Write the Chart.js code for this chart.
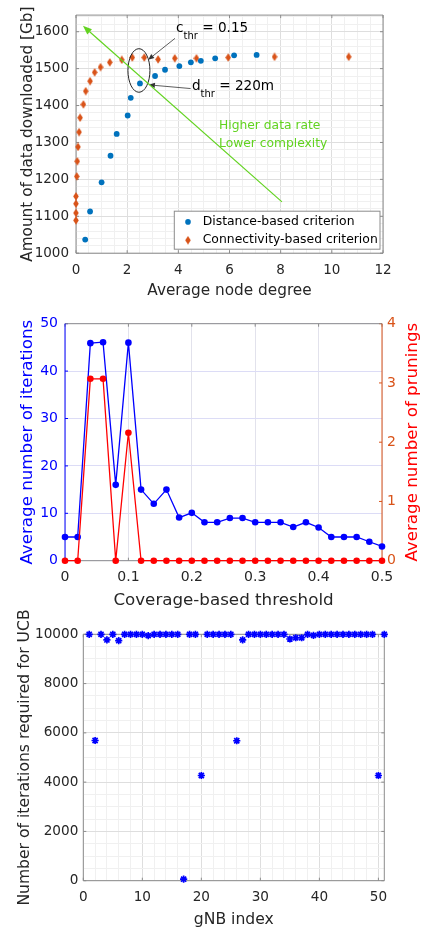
<!DOCTYPE html>
<html><head><meta charset="utf-8">
<script src="https://cdn.jsdelivr.net/npm/chart.js@4.4.1/dist/chart.umd.min.js"></script>
<style>
html,body{margin:0;padding:0;background:#fff;overflow:hidden;width:424px;height:927px;}
.c{position:absolute;left:0;width:424px;}
canvas{display:block;}
</style></head><body>
<div class="c" style="top:0;height:305px"><canvas id="c1" width="424" height="305"></canvas></div>
<div class="c" style="top:305px;height:310px"><canvas id="c2" width="424" height="310"></canvas></div>
<div class="c" style="top:600px;height:335px"><canvas id="c3" width="424" height="335"></canvas></div>
<script>
// ---------- DATA ----------
// Chart 1: data downloaded vs average node degree
const distDegree = [0.36, 0.55, 1.0, 1.35, 1.59, 2.02, 2.14, 2.5, 3.09, 3.48, 4.04, 4.49, 4.88, 5.44, 6.18, 7.06];
const distData   = [1037, 1113, 1192, 1264, 1323, 1373, 1421, 1460, 1480, 1497, 1507, 1517, 1521, 1528, 1536, 1537];
const connDegree = [0.0, 0.0, 0.0, 0.0, 0.03, 0.05, 0.08, 0.12, 0.16, 0.29, 0.38, 0.55, 0.73, 0.96, 1.32, 1.79, 2.2, 2.67, 3.21, 3.86, 4.71, 5.95, 7.76, 10.66];
const connData   = [1089, 1109, 1134, 1154, 1208, 1249, 1288, 1328, 1367, 1403, 1439, 1466, 1490, 1504, 1517, 1524, 1530, 1530, 1525, 1528, 1528, 1530, 1532, 1532];
const seriesNames1 = ['Distance-based criterion', 'Connectivity-based criterion'];
const degreeTicks = [0, 2, 4, 6, 8, 10, 12];
const downloadTicks = [1000, 1100, 1200, 1300, 1400, 1500, 1600];

// Chart 2: iterations / prunings vs coverage threshold
const thresholds = [0, 0.02, 0.04, 0.06, 0.08, 0.1, 0.12, 0.14, 0.16, 0.18, 0.2, 0.22, 0.24, 0.26, 0.28, 0.3, 0.32, 0.34, 0.36, 0.38, 0.4, 0.42, 0.44, 0.46, 0.48, 0.5];
const avgIterations = [5, 5, 45.9, 46.1, 16, 46, 15, 12, 15, 9.1, 10.1, 8.1, 8.1, 9, 9, 8.1, 8.1, 8.1, 7.1, 8.1, 7, 5, 5, 5, 4, 3];
const avgPrunings   = [0, 0, 3.07, 3.07, 0, 2.16, 0, 0, 0, 0, 0, 0, 0, 0, 0, 0, 0, 0, 0, 0, 0, 0, 0, 0, 0, 0];
const thresholdTicks = [0, 0.1, 0.2, 0.3, 0.4, 0.5];
const iterationTicks = [0, 10, 20, 30, 40, 50];
const pruningTicks = [0, 1, 2, 3, 4];

// Chart 3: UCB iterations per gNB
const gnbIndex = [1,2,3,4,5,6,7,8,9,10,11,12,13,14,15,16,17,18,19,20,21,22,23,24,25,26,27,28,29,30,31,32,33,34,35,36,37,38,39,40,41,42,43,44,45,46,47,48,49,50,51];
const ucbIterations = [10000,5690,10000,9770,10000,9740,10000,10000,10000,10000,9950,10000,10000,10000,10000,10000,60,10000,10000,4270,10000,10000,10000,10000,10000,5680,9770,10000,10000,10000,10000,10000,10000,10000,9810,9860,9860,10000,9960,10000,10000,10000,10000,10000,10000,10000,10000,10000,10000,4270,10000];
const gnbTicks = [0, 10, 20, 30, 40, 50];
const ucbTicks = [0, 2000, 4000, 6000, 8000, 10000];

// ---------- STYLE ----------
const FONT = "'DejaVu Sans', sans-serif";
const AX = '#262626';
const FRAME = '#8c8c8c';
const BLUE1 = '#0072BD', ORANGE1 = '#D95319';
const GREEN = '#62d320';

function range(a, b, s) { const out = []; const n = Math.round((b - a) / s); for (let i = 0; i <= n; i++) out.push(+(a + i * s).toFixed(6)); return out; }
function isIn(arr, v) { return arr.some(t => Math.abs(t - v) < 1e-9); }

function linAxis(o) {
  const all = o.minor ? Array.from(new Set([...o.minor, ...o.major])).sort((a, b) => a - b) : o.major;
  return {
    type: 'linear', position: o.position, min: o.min, max: o.max,
    afterBuildTicks: s => { s.ticks = all.map(v => ({ value: v })); },
    afterFit: s => { if (o.width != null) s.width = o.width; if (o.height != null) s.height = o.height; },
    grid: {
      display: o.grid !== false, drawOnChartArea: o.grid !== false, drawTicks: false, lineWidth: 1,
      color: c => (c.tick && isIn(o.major, c.tick.value)) ? o.gridMajor : o.gridMinor
    },
    border: { display: false },
    ticks: {
      autoSkip: false, maxRotation: 0, minRotation: 0, padding: o.pad, color: o.tickColor || AX,
      font: { family: FONT, size: o.tickSize },
      callback: v => isIn(o.major, v) ? String(v) : ''
    },
    title: o.title ? { display: true, text: o.title, color: o.titleColor || AX, font: { family: FONT, size: o.titleSize }, padding: o.titlePad } : { display: false }
  };
}

// frame + inward ticks
const framePlugin = {
  id: 'frame',
  beforeDatasetsDraw(chart, args, opts) {
    const { ctx, chartArea: a } = chart;
    ctx.save(); ctx.lineWidth = 1;
    const line = (x1, y1, x2, y2, c) => { ctx.strokeStyle = c; ctx.beginPath(); ctx.moveTo(x1, y1); ctx.lineTo(x2, y2); ctx.stroke(); };
    (opts.ticks || []).forEach(t => {
      const s = chart.scales[t.scale];
      t.values.forEach(v => {
        const p = s.getPixelForValue(v);
        t.sides.forEach(side => {
          if (side === 'bottom') line(p, a.bottom, p, a.bottom - t.len, t.color);
          if (side === 'top') line(p, a.top, p, a.top + t.len, t.color);
          if (side === 'left') line(a.left, p, a.left + t.len, p, t.color);
          if (side === 'right') line(a.right, p, a.right - t.len, p, t.color);
        });
      });
    });
    line(a.left, a.top, a.right, a.top, opts.top);
    line(a.left, a.bottom, a.right, a.bottom, opts.bottom);
    line(a.left, a.top, a.left, a.bottom, opts.left);
    line(a.right, a.top, a.right, a.bottom, opts.right);
    ctx.restore();
  }
};

// diamond marker image
const diamond = document.createElement('canvas');
diamond.width = 6; diamond.height = 9;
(() => { const d = diamond.getContext('2d'); d.fillStyle = ORANGE1; d.beginPath(); d.moveTo(3, 0.2); d.lineTo(5.8, 4.5); d.lineTo(3, 8.8); d.lineTo(0.2, 4.5); d.closePath(); d.fill(); })();

// ---------- CHART 1 ----------
const annot1 = {
  ellipse: { x: 2.46, y: 1495, rx: 0.43, ry: 59 },
  cArrow: { from: [3.87, 1582], to: [2.82, 1524] },
  dArrow: { from: [4.48, 1446], to: [2.85, 1456] },
  green: { from: [8.05, 1139], to: [0.27, 1616] },
  cLabel: { x: 3.91, y: 1599, main: 'c', sub: 'thr', rest: ' = 0.15' },
  dLabel: { x: 4.53, y: 1442, main: 'd', sub: 'thr', rest: ' = 220m' },
  greenText: { x: 5.59, lines: [['Higher data rate', 1345], ['Lower complexity', 1297]] }
};

function arrow(ctx, x1, y1, x2, y2, color, len, half, lw) {
  const ang = Math.atan2(y2 - y1, x2 - x1);
  ctx.strokeStyle = color; ctx.fillStyle = color; ctx.lineWidth = lw;
  const bx = x2 - len * Math.cos(ang), by = y2 - len * Math.sin(ang);
  ctx.beginPath(); ctx.moveTo(x1, y1); ctx.lineTo(bx, by); ctx.stroke();
  ctx.beginPath(); ctx.moveTo(x2, y2);
  ctx.lineTo(bx + half * Math.sin(ang), by - half * Math.cos(ang));
  ctx.lineTo(bx - half * Math.sin(ang), by + half * Math.cos(ang));
  ctx.closePath(); ctx.fill();
}

const annotPlugin = {
  id: 'annot1',
  afterDatasetsDraw(chart) {
    const { ctx, chartArea: a } = chart;
    const sx = chart.scales.x, sy = chart.scales.y;
    const X = v => sx.getPixelForValue(v), Y = v => sy.getPixelForValue(v);
    ctx.save();
    // ellipse
    const e = annot1.ellipse;
    const cx = X(e.x), cy = Y(e.y);
    const rx = Math.abs(X(e.x + e.rx) - cx), ry = Math.abs(Y(e.y + e.ry) - cy);
    ctx.strokeStyle = AX; ctx.lineWidth = 1;
    ctx.beginPath(); ctx.ellipse(cx, cy, rx, ry, 0, 0, Math.PI * 2); ctx.stroke();
    // arrows
    arrow(ctx, X(annot1.cArrow.from[0]), Y(annot1.cArrow.from[1]), X(annot1.cArrow.to[0]), Y(annot1.cArrow.to[1]), '#333', 6, 2.6, 0.8);
    arrow(ctx, X(annot1.dArrow.from[0]), Y(annot1.dArrow.from[1]), X(annot1.dArrow.to[0]), Y(annot1.dArrow.to[1]), '#333', 6, 2.6, 0.8);
    arrow(ctx, X(annot1.green.from[0]), Y(annot1.green.from[1]), X(annot1.green.to[0]), Y(annot1.green.to[1]), GREEN, 9, 3.5, 1.2);
    // labels with subscripts
    ctx.fillStyle = '#000'; ctx.textBaseline = 'alphabetic'; ctx.textAlign = 'left';
    [annot1.cLabel, annot1.dLabel].forEach(l => {
      let x = X(l.x); const y = Y(l.y);
      ctx.font = `13.6px ${FONT}`; ctx.fillText(l.main, x, y); x += ctx.measureText(l.main).width;
      ctx.font = `10px ${FONT}`; ctx.fillText(l.sub, x, y + 7.3); x += ctx.measureText(l.sub).width;
      ctx.font = `13.6px ${FONT}`; ctx.fillText(l.rest, x, y);
    });
    // green text
    ctx.fillStyle = GREEN; ctx.font = `12.3px ${FONT}`; ctx.textBaseline = 'middle';
    annot1.greenText.lines.forEach(([t, v]) => ctx.fillText(t, X(annot1.greenText.x), Y(v)));
    // legend
    const lw = 205.7, lh = 38;
    const lx = a.right - 3 - lw, ly = a.bottom - 4 - lh;
    ctx.fillStyle = '#fff'; ctx.fillRect(lx, ly, lw, lh);
    ctx.strokeStyle = FRAME; ctx.lineWidth = 1; ctx.strokeRect(lx, ly, lw, lh);
    ctx.font = `12.4px ${FONT}`; ctx.fillStyle = '#000'; ctx.textBaseline = 'middle';
    const rows = [ly + 10.7, ly + 29];
    ctx.fillStyle = BLUE1; ctx.beginPath(); ctx.arc(lx + 13.7, rows[0], 2.8, 0, Math.PI * 2); ctx.fill();
    ctx.drawImage(diamond, lx + 13.7 - 3, rows[1] - 4.5);
    ctx.fillStyle = '#000';
    chart.data.datasets.forEach((ds, i) => ctx.fillText(ds.label, lx + 28.4, rows[i]));
    ctx.restore();
  }
};

new Chart(document.getElementById('c1'), {
  type: 'scatter',
  data: {
    datasets: [
      { label: seriesNames1[0], data: distDegree.map((x, i) => ({ x, y: distData[i] })), pointStyle: 'circle', pointRadius: 2.9, pointBorderWidth: 0, backgroundColor: BLUE1, borderColor: BLUE1, clip: false },
      { label: seriesNames1[1], data: connDegree.map((x, i) => ({ x, y: connData[i] })), pointStyle: diamond, pointRadius: 4, backgroundColor: ORANGE1, borderColor: ORANGE1, clip: false }
    ]
  },
  options: {
    responsive: false, animation: false, events: [],
    layout: { padding: { left: 0, right: 41, top: 14, bottom: 0 } },
    plugins: {
      legend: { display: false }, tooltip: { enabled: false },
      frame: { top: FRAME, bottom: FRAME, left: FRAME, right: FRAME,
        ticks: [ { scale: 'x', values: degreeTicks, sides: ['bottom', 'top'], len: 3, color: FRAME },
                 { scale: 'y', values: downloadTicks, sides: ['left', 'right'], len: 3, color: FRAME } ] }
    },
    scales: {
      x: linAxis({ position: 'bottom', min: 0, max: 12, major: degreeTicks, minor: range(0, 12, 0.5), height: 51.8, pad: 9, tickSize: 13.5,
        gridMajor: '#dedede', gridMinor: '#f0f0f0', title: 'Average node degree', titleSize: 15.3, titlePad: { top: 0, bottom: 5.1 } }),
      y: linAxis({ position: 'left', min: 1000, max: 1645, major: downloadTicks, minor: range(1000, 1640, 20), width: 76, pad: 7, tickSize: 13.5,
        gridMajor: '#dedede', gridMinor: '#f0f0f0', title: 'Amount of data downloaded [Gb]', titleSize: 15.3, titlePad: { top: 18.5, bottom: 0 } })
    }
  },
  plugins: [framePlugin, annotPlugin]
});

// ---------- CHART 2 ----------
const RED = '#ff0000', PBLUE = '#0000ff';
const rightTitlePlugin = {
  id: 'rightTitle',
  afterDraw(chart, args, opts) {
    const { ctx, chartArea: a } = chart;
    ctx.save();
    ctx.translate(opts.x, (a.top + a.bottom) / 2);
    ctx.rotate(-Math.PI / 2);
    ctx.font = `${opts.size}px ${FONT}`; ctx.fillStyle = opts.color;
    ctx.textAlign = 'center'; ctx.textBaseline = 'alphabetic';
    ctx.fillText(opts.text, 0, 0);
    ctx.restore();
  }
};

new Chart(document.getElementById('c2'), {
  type: 'line',
  data: {
    datasets: [
      { label: 'Average number of prunings', yAxisID: 'y1', data: thresholds.map((x, i) => ({ x, y: avgPrunings[i] })),
        borderColor: RED, backgroundColor: RED, pointRadius: 3.3, pointBorderWidth: 0, borderWidth: 1.3, tension: 0, clip: false },
      { label: 'Average number of iterations', yAxisID: 'y', data: thresholds.map((x, i) => ({ x, y: avgIterations[i] })),
        borderColor: PBLUE, backgroundColor: PBLUE, pointRadius: 3.3, pointBorderWidth: 0, borderWidth: 1.3, tension: 0, clip: false }
    ]
  },
  options: {
    responsive: false, animation: false, events: [],
    layout: { padding: { left: 0, right: 0, top: 18.7, bottom: 0 } },
    plugins: {
      legend: { display: false }, tooltip: { enabled: false },
      frame: { top: FRAME, bottom: FRAME, left: PBLUE, right: ORANGE1,
        ticks: [ { scale: 'x', values: thresholdTicks, sides: ['bottom', 'top'], len: 3, color: FRAME },
                 { scale: 'y', values: iterationTicks, sides: ['left'], len: 3, color: PBLUE },
                 { scale: 'y1', values: pruningTicks, sides: ['right'], len: 3, color: ORANGE1 } ] },
      rightTitle: { text: 'Average number of prunings', x: 417, size: 16.7, color: RED }
    },
    scales: {
      x: linAxis({ position: 'bottom', min: 0, max: 0.5, major: thresholdTicks, height: 54.3, pad: 7.8, tickSize: 14,
        gridMajor: '#e2e2ec', gridMinor: '#e2e2ec', title: 'Coverage-based threshold', titleSize: 16.7, titlePad: { top: 0, bottom: 4.3 } }),
      y: linAxis({ position: 'left', min: 0, max: 50, major: iterationTicks, width: 65, pad: 7, tickSize: 14, tickColor: PBLUE,
        gridMajor: '#dcdcf6', gridMinor: '#dcdcf6', title: 'Average number of iterations', titleColor: PBLUE, titleSize: 16.7, titlePad: { top: 17.2, bottom: 0 } }),
      y1: linAxis({ position: 'right', min: 0, max: 4, major: pruningTicks, width: 42, pad: 5, tickSize: 14, tickColor: ORANGE1, grid: false })
    }
  },
  plugins: [framePlugin, rightTitlePlugin]
});

// ---------- CHART 3 ----------
new Chart(document.getElementById('c3'), {
  type: 'scatter',
  data: {
    datasets: [
      { label: 'UCB iterations', data: gnbIndex.map((x, i) => ({ x, y: ucbIterations[i] })),
        pointStyle: 'star', pointRadius: 3.6, pointBorderWidth: 1.7, borderColor: PBLUE, backgroundColor: PBLUE, clip: false }
    ]
  },
  options: {
    responsive: false, animation: false, events: [],
    layout: { padding: { left: 0, right: 39.7, top: 34.3, bottom: 0 } },
    plugins: {
      legend: { display: false }, tooltip: { enabled: false },
      frame: { top: FRAME, bottom: FRAME, left: FRAME, right: FRAME,
        ticks: [ { scale: 'x', values: gnbTicks, sides: ['bottom', 'top'], len: 3, color: FRAME },
                 { scale: 'y', values: ucbTicks, sides: ['left', 'right'], len: 3, color: FRAME } ] }
    },
    scales: {
      x: linAxis({ position: 'bottom', min: 0, max: 51, major: gnbTicks, minor: range(0, 50, 2), height: 54.3, pad: 8.6, tickSize: 13.6,
        gridMajor: '#dedede', gridMinor: '#f0f0f0', title: 'gNB index', titleSize: 15.6, titlePad: { top: 0, bottom: 6 } }),
      y: linAxis({ position: 'left', min: 0, max: 10000, major: ucbTicks, minor: range(0, 10000, 500), width: 83.3, pad: 5, tickSize: 13.6,
        gridMajor: '#dedede', gridMinor: '#f0f0f0', title: 'Number of iterations required for UCB', titleSize: 15.6, titlePad: { top: 15.7, bottom: 0 } })
    }
  },
  plugins: [framePlugin]
});
</script>
</body></html>
